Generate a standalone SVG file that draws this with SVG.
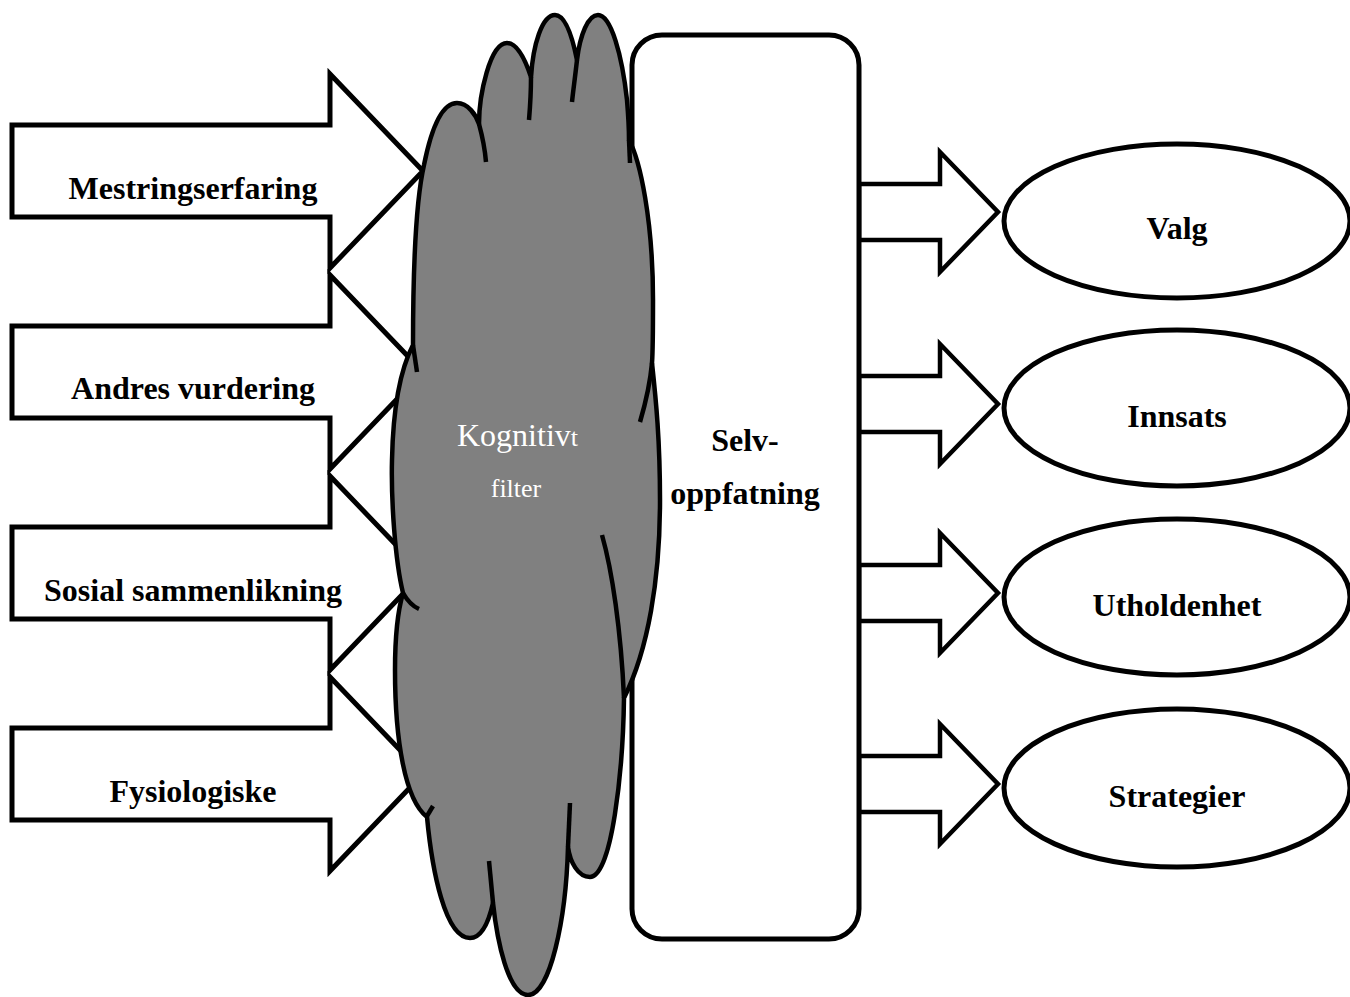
<svg xmlns="http://www.w3.org/2000/svg" width="1350" height="997" viewBox="0 0 1350 997">
<style>
.arr{fill:#fff;stroke:#000;stroke-width:5;stroke-linejoin:miter}
.rarr{fill:#fff;stroke:#000;stroke-width:4.5;stroke-linejoin:miter}
.ell{fill:#fff;stroke:#000;stroke-width:5}
.lbl{font-family:"Liberation Serif","Times New Roman",serif;font-weight:bold;font-size:32px;fill:#000;text-anchor:middle}
.cl{fill:#808080;stroke:#000;stroke-width:4.5;stroke-linejoin:round}
.tail{fill:none;stroke:#000;stroke-width:4.5}
.wt{font-family:"Liberation Serif","Times New Roman",serif;fill:#fff}
</style>
<g id="connectors">
  <polygon class="arr" points="12,125 330,125 330,74 423,171 330,268 330,217 12,217"/>
  <polygon class="arr" points="12,326 330,326 330,275 423,372 330,469 330,418 12,418"/>
  <polygon class="arr" points="12,527 330,527 330,476 423,573 330,670 330,619 12,619"/>
  <polygon class="arr" points="12,728 330,728 330,677 423,774 330,871 330,820 12,820"/>
  <polygon class="rarr" points="859,184 940,184 940,152 998,212 940,272 940,240 859,240"/>
  <polygon class="rarr" points="859,376 940,376 940,344 998,404 940,464 940,432 859,432"/>
  <polygon class="rarr" points="859,565 940,565 940,533 998,593 940,653 940,621 859,621"/>
  <polygon class="rarr" points="859,756 940,756 940,724 998,784 940,844 940,812 859,812"/>
</g>
<g id="n-mestring"><text class="lbl" x="193" y="199">Mestringserfaring</text></g>
<g id="n-andres"><text class="lbl" x="193" y="399">Andres vurdering</text></g>
<g id="n-sosial"><text class="lbl" x="193" y="601">Sosial sammenlikning</text></g>
<g id="n-fysio"><text class="lbl" x="193" y="802">Fysiologiske</text></g>
<g id="n-selv">
  <rect x="632" y="35" width="227" height="904" rx="30" ry="30" fill="#fff" stroke="#000" stroke-width="5"/>
  <text class="lbl" x="745" y="451">Selv-</text>
  <text class="lbl" x="745" y="504">oppfatning</text>
</g>
<g id="n-valg"><ellipse class="ell" cx="1177" cy="221" rx="173" ry="77"/><text class="lbl" x="1177" y="239">Valg</text></g>
<g id="n-innsats"><ellipse class="ell" cx="1177" cy="408" rx="173" ry="78"/><text class="lbl" x="1177" y="427">Innsats</text></g>
<g id="n-uthold"><ellipse class="ell" cx="1177" cy="597" rx="173" ry="78"/><text class="lbl" x="1177" y="616">Utholdenhet</text></g>
<g id="n-strategier"><ellipse class="ell" cx="1177" cy="788" rx="173" ry="79"/><text class="lbl" x="1177" y="807">Strategier</text></g>
<g id="n-filter">
  <path class="cl" d="M 413,345 C 413,270 416,200 424,165 C 432,125 443,103 457,103 C 468,103 476,115 479,124
    C 479,95 490,43 507,43 C 518,43 526,62 531,77
    C 533,45 542,15 555,15 C 566,15 573,40 577,60
    C 580,35 588,15 598,15 C 611,15 622,55 627,100 C 628,112 629,130 629,140
    C 640,160 653,220 653,300 C 653,330 653,350 652,363
    C 656,400 660,440 660,500 C 660,580 648,650 624,698
    C 623,770 612,877 590,877 C 578,877 570,862 568,847
    C 566,920 550,995 528,995 C 508,995 497,940 493,903
    C 488,925 480,938 470,938 C 445,938 432,870 427,817
    C 405,800 395,740 395,670 C 395,640 398,610 403,593
    C 395,560 391,500 392,460 C 393,410 400,370 413,345 Z"/>
  <path class="tail" d="M 479,124 C 482,135 485,150 486,162"/>
  <path class="tail" d="M 531,77 C 531,92 530,108 529,120"/>
  <path class="tail" d="M 577,60 C 575,78 573,92 572,102"/>
  <path class="tail" d="M 629,140 L 630,163"/>
  <path class="tail" d="M 652,363 C 650,385 645,405 640,422"/>
  <path class="tail" d="M 602,535 C 612,570 621,630 624,698"/>
  <path class="tail" d="M 568,847 L 570,803"/>
  <path class="tail" d="M 493,903 L 489,861"/>
  <path class="tail" d="M 427,816 L 433,806"/>
  <path class="tail" d="M 403,593 C 407,600 412,606 419,609"/>
  <path class="tail" d="M 413,345 L 417,372"/>
  <text class="wt" x="457" y="446" font-size="32">Kogniti<tspan>v</tspan><tspan font-size="26">t</tspan></text>
  <text class="wt" x="516" y="497" font-size="26" text-anchor="middle">filter</text>
</g>
</svg>
